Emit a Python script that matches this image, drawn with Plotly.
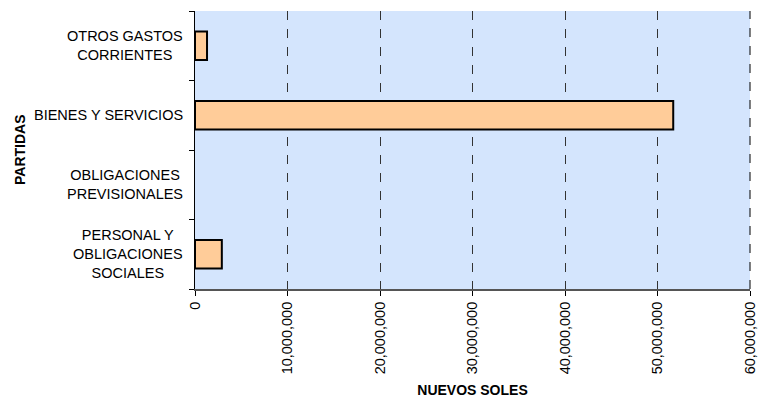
import plotly.graph_objects as go

categories = ["PERSONAL Y<br>OBLIGACIONES<br>SOCIALES", "OBLIGACIONES<br>PREVISIONALES",
              "BIENES Y SERVICIOS", "OTROS GASTOS<br>CORRIENTES"]
values = [2900000, 0, 51700000, 1300000]
x_ticks = [0, 10000000, 20000000, 30000000, 40000000, 50000000, 60000000]

# page has 8px body margin; compensate so the plot lands where the reference has it
W, H = 759, 391
ML, MR, MT, MB = 187, 17, 3, 108
PW = W - ML - MR

FONT = "Liberation Sans, Arial"

fig = go.Figure()
fig.add_trace(go.Bar(
    y=categories, x=values, orientation="h",
    marker=dict(color="#FFCC99",
                line=dict(color="black", width=[2 if v > 0 else 0 for v in values])),
    width=0.41,
))

for c in categories:
    fig.add_annotation(text=c, x=(177 - ML) / PW, xref="paper", y=c, yref="y",
                       showarrow=False, align="center", xanchor="right",
                       font=dict(family=FONT, size=14.5, color="black"))

fig.add_annotation(text="<b>PARTIDAS</b>", textangle=-90, x=(12 - ML) / PW, xref="paper",
                   xanchor="center", y=0.5, yref="paper",
                   showarrow=False, font=dict(family=FONT, size=14, color="black"))

# dashed border at the right edge of the plot area
fig.add_shape(type="line", x0=1, x1=1, xref="paper", y0=0, y1=1, yref="paper",
              line=dict(color="black", width=1, dash="dash"), layer="above")

fig.update_layout(
    width=W, height=H,
    margin=dict(l=ML, r=MR, t=MT, b=MB, pad=0),
    paper_bgcolor="white", plot_bgcolor="#D4E5FD",
    showlegend=False,
    font=dict(family=FONT, size=14, color="black"),
    xaxis=dict(
        range=[0, 60000000], tickvals=x_ticks, tickformat=",d",
        tickangle=-90, showgrid=True, gridcolor="#333333", griddash="dash", gridwidth=1,
        zeroline=False, showline=True, linecolor="#555555", linewidth=2,
        ticks="outside", ticklen=5, tickcolor="black",
        tickfont=dict(size=14.5),
        title=dict(text="<b>NUEVOS SOLES</b>", font=dict(size=14), standoff=12),
    ),
    yaxis=dict(
        categoryorder="array", categoryarray=categories,
        range=[-0.5, 3.5],
        showticklabels=False, tickson="boundaries", ticks="outside", ticklen=5,
        tickcolor="black", showgrid=False, showline=True, linecolor="black", linewidth=1,
        zeroline=False,
    ),
)

fig.write_html("out.html")
